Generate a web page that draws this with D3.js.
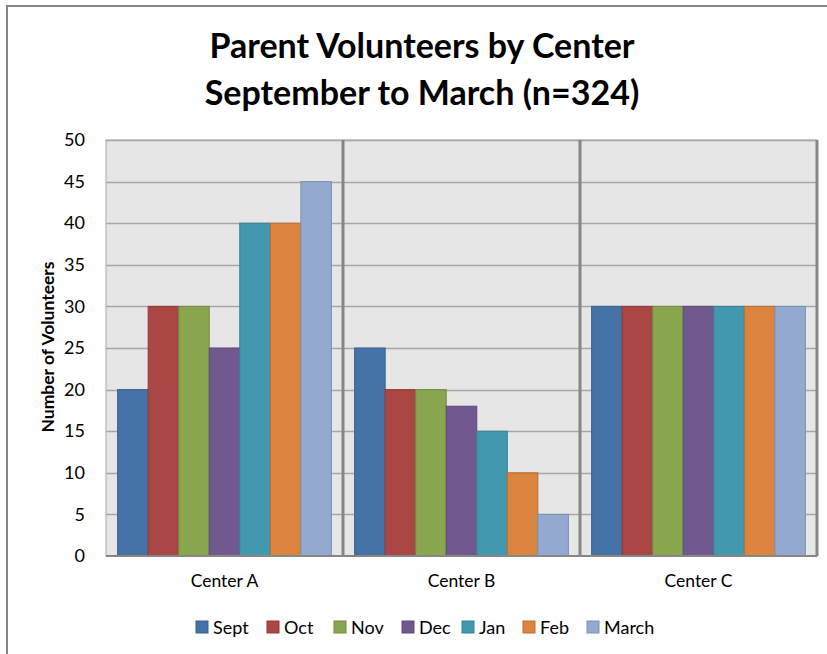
<!DOCTYPE html>
<html>
<head>
<meta charset="utf-8">
<script src="https://cdn.jsdelivr.net/npm/d3@7"></script>
<style>
  body { margin: 0; background: #fff; }
  svg { display: block; font-family: Lato, "Open Sans", sans-serif; }
</style>
</head>
<body>
<div id="chart"></div>
<script>
// data
const centers = ["Center A", "Center B", "Center C"]
const months = ["Sept", "Oct", "Nov", "Dec", "Jan", "Feb", "March"]
const sept = [20, 25, 30]
const oct = [30, 20, 30]
const nov = [30, 20, 30]
const dec = [25, 18, 30]
const jan = [40, 15, 30]
const feb = [40, 10, 30]
const march = [45, 5, 30]
const yTicks = [0, 5, 10, 15, 20, 25, 30, 35, 40, 45, 50]

const colors = ["#4572A7", "#AA4643", "#89A54E", "#71588F", "#4198AF", "#DB843D", "#93A9CF"]
const strokes = ["#3a6190", "#8f3b38", "#74893f", "#5f4a79", "#378195", "#b86f34", "#7d90b0"]

const seriesVals = [sept, oct, nov, dec, jan, feb, march]
const rows = []
centers.forEach((c, i) => {
  months.forEach((m, j) => rows.push({center: c, month: m, value: seriesVals[j][i], k: j}))
})

const W = 827, H = 654
const margin = {top: 140, right: 10, bottom: 98, left: 106}
const width = 817 - margin.left, height = 556 - margin.top

const svg = d3.select("#chart").append("svg")
  .attr("width", W).attr("height", H)

// outer chart border (runs off the picture at right/bottom)
svg.append("rect")
  .attr("x", 7).attr("y", 6)
  .attr("width", 840).attr("height", 700)
  .attr("fill", "none").attr("stroke", "#868686").attr("stroke-width", 2)

svg.append("text").attr("x", 422).attr("y", 58)
  .attr("text-anchor", "middle").attr("font-size", 34).attr("font-weight", "bold")
  .attr("fill", "#000").text("Parent Volunteers by Center")
svg.append("text").attr("x", 422).attr("y", 105)
  .attr("text-anchor", "middle").attr("font-size", 34).attr("font-weight", "bold")
  .attr("fill", "#000").text("September to March (n=324)")

const g = svg.append("g").attr("transform", `translate(${margin.left},${margin.top})`)

const x0 = d3.scaleBand().domain(centers).range([0, width]).padding(0)
const x1 = d3.scaleBand().domain(months).range([0, x0.bandwidth()]).paddingInner(0).paddingOuter(0.38)
const y = d3.scaleLinear().domain([0, 50]).range([height, 0])

g.append("rect").attr("width", width).attr("height", height)
  .attr("fill", "#e6e6e6").attr("stroke", "#a6a6a6").attr("stroke-width", 1)

// grid
g.selectAll(".grid").data(yTicks.filter(d => d > 0)).join("line")
  .attr("x1", 0).attr("x2", width)
  .attr("y1", d => Math.round(y(d)) + 0.5).attr("y2", d => Math.round(y(d)) + 0.5)
  .attr("stroke", "#a6a6a6").attr("stroke-width", 1.5)

// y axis
const yAxis = g.append("g")
  .call(d3.axisLeft(y).tickValues(yTicks).tickSize(0).tickPadding(21))
yAxis.select(".domain").remove()
yAxis.selectAll("text").attr("font-size", 18).attr("fill", "#000")
  .style("font-family", "Lato, sans-serif")

// bars
g.selectAll(".bar").data(rows).join("rect")
  .attr("x", d => x0(d.center) + x1(d.month))
  .attr("y", d => y(d.value))
  .attr("width", x1.bandwidth())
  .attr("height", d => height - y(d.value))
  .attr("fill", d => colors[d.k])
  .attr("stroke", d => strokes[d.k]).attr("stroke-width", 1)

// category separators
g.selectAll(".sep").data(centers).join("line")
  .attr("x1", d => x0(d) + x0.bandwidth()).attr("x2", d => x0(d) + x0.bandwidth())
  .attr("y1", 0).attr("y2", height)
  .attr("stroke", "#868686").attr("stroke-width", 3)

g.append("line").attr("x1", 0).attr("x2", width).attr("y1", height).attr("y2", height)
  .attr("stroke", "#868686").attr("stroke-width", 2)

// x axis labels
const xAxis = g.append("g").attr("transform", `translate(0,${height})`)
  .call(d3.axisBottom(x0).tickSize(0).tickPadding(19))
xAxis.select(".domain").remove()
xAxis.selectAll("text").attr("font-size", 17.5).attr("fill", "#000")
  .style("font-family", "Lato, sans-serif")

svg.append("text")
  .attr("transform", `translate(54,${margin.top + height / 2 - 1}) rotate(-90)`)
  .attr("text-anchor", "middle").attr("font-size", 17.5).attr("font-weight", "bold")
  .text("Number of Volunteers")

// legend
const legX = [196, 267, 334, 402, 462, 523, 587]
const leg = svg.append("g")
const item = leg.selectAll("g").data(months).join("g")
  .attr("transform", (d, i) => `translate(${legX[i]},621)`)
item.append("rect").attr("width", 12).attr("height", 12)
  .attr("fill", (d, i) => colors[i]).attr("stroke", (d, i) => strokes[i])
item.append("text").attr("x", 17).attr("y", 12.5)
  .attr("font-size", 18).attr("fill", "#000").text(d => d)
</script>
</body>
</html>
